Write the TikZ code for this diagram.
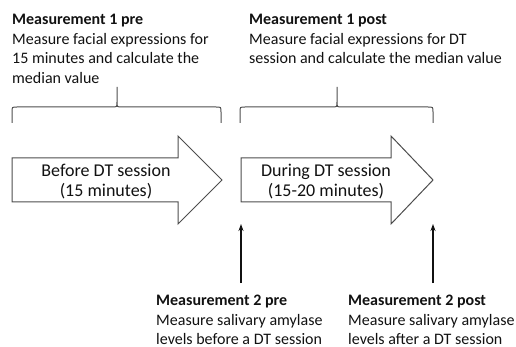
\documentclass[tikz,border=0pt]{standalone}
\usepackage{fontspec}
\setmainfont{Carlito}
\usepackage{tikz}
\usetikzlibrary{arrows.meta}
\usepackage{xcolor}
\definecolor{txt}{HTML}{111111}
\definecolor{edge}{HTML}{4D4D4D}
% brace: left end, cusp, right end
\def\mbrace#1#2#3{%
  \draw [edge, line width=1pt] (#1,123) -- (#1,112) .. controls (#1,107) .. (#1+5,107)
    -- (#2-5,107) .. controls (#2,107) .. (#2,102) -- (#2,87)
    (#2,102) .. controls (#2,107) .. (#2+5,107) -- (#3-5,107)
    .. controls (#3,107) .. (#3,112) -- (#3,123);}

\begin{document}
\begin{tikzpicture}[x=1pt, y=-1pt,
  mtext/.style={anchor=base west, inner sep=0, align=left, txt,
    font=\fontsize{16}{19.4}\selectfont},
  stagetext/.style={inner sep=0, align=center, txt,
    font=\fontsize{18}{20}\selectfont},
  bigarrow/.style={draw=edge, line width=1pt, fill=white},
  uparrow/.style={-{Stealth[length=7pt, width=5pt]}, line width=1.2pt, txt}]
\useasboundingbox (0,0) rectangle (516,347);

% measurement 1 texts (placed at the baseline of the last line)
\node [mtext] (m1pre) at (12,83.2) {\textbf{Measurement 1 pre}\\Measure facial expressions for\\15 minutes and calculate the\\median value};
\node [mtext] (m1post) at (249,63.8) {\textbf{Measurement 1 post}\\Measure facial expressions for DT\\session and calculate the median value};

\mbrace{12}{117}{221}
\mbrace{240}{337}{433}

% stage arrows
\draw [bigarrow] (12,158) -- (178,158) -- (178,136) -- (222,180) -- (178,224) -- (178,202) -- (12,202) -- cycle;
\draw [bigarrow] (241,158) -- (391,158) -- (391,136) -- (433,180) -- (391,224) -- (391,202) -- (241,202) -- cycle;
\node [stagetext] (before) at (106,182) {Before DT session\\(15 minutes)};
\node [stagetext] (during) at (326,182) {During DT session\\(15-20 minutes)};

% measurement 2
\coordinate (prebot) at (241,283);
\coordinate (pretop) at (241,224);
\coordinate (postbot) at (433,283);
\coordinate (posttop) at (433,224);
\draw [uparrow] (prebot) -- (pretop);
\draw [uparrow] (postbot) -- (posttop);
\node [mtext] (m2pre) at (156,344.5) {\textbf{Measurement 2 pre}\\Measure salivary amylase\\levels before a DT session};
\node [mtext] (m2post) at (348,344.5) {\textbf{Measurement 2 post}\\Measure salivary amylase\\levels after a DT session};
\end{tikzpicture}
\end{document}
